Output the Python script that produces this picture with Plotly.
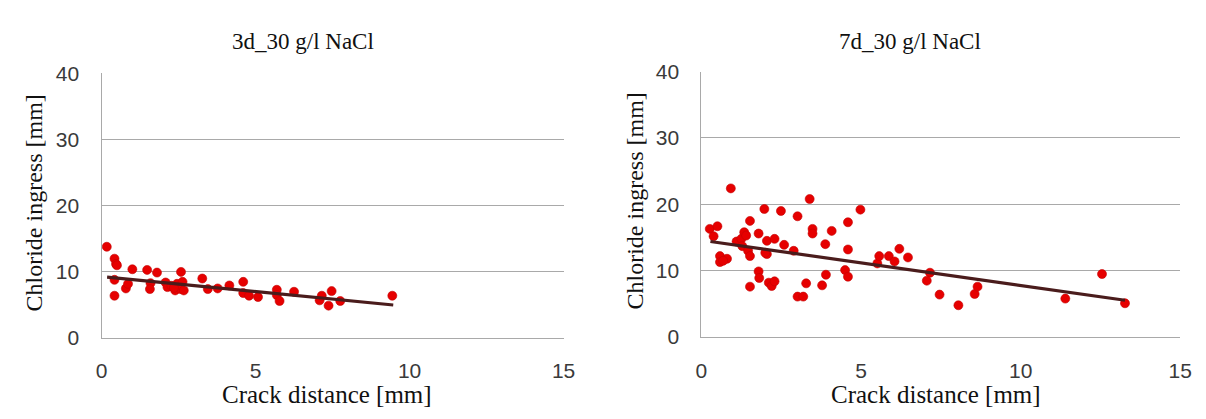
import plotly.graph_objects as go

# ---- data ----
x_3d = [0.17, 0.42, 0.47, 0.50, 0.42, 0.42, 0.79, 0.86, 1.00, 1.48, 1.59, 1.57, 1.80,
        2.08, 2.14, 2.27, 2.39, 2.45, 2.58, 2.63, 2.57, 2.67, 2.35, 3.27, 3.45, 3.77,
        4.15, 4.60, 4.60, 4.79, 5.08, 5.69, 5.69, 5.78, 6.25, 7.08, 7.15, 7.37, 7.47,
        7.75, 9.44]
y_3d = [13.8, 12.0, 11.2, 11.0, 8.8, 6.4, 7.5, 8.2, 10.4, 10.3, 8.3, 7.4, 9.9,
        8.4, 7.7, 7.9, 7.2, 8.2, 10.0, 8.5, 7.4, 7.2, 7.6, 9.0, 7.4, 7.5,
        7.95, 8.5, 6.8, 6.4, 6.2, 7.3, 6.5, 5.6, 7.0, 5.7, 6.4, 4.9, 7.1,
        5.6, 6.4]
trend_x_3d = [0.18, 9.47]
trend_y_3d = [9.2, 5.0]

x_7d = [0.26, 0.50, 0.38, 0.58, 0.58, 0.80, 0.68, 0.92, 1.10, 1.25, 1.34, 1.40, 1.28,
        1.46, 1.52, 1.52, 1.52, 1.79, 1.79, 1.81, 1.97, 2.05, 2.05, 2.00, 2.11, 2.20,
        2.29, 2.29, 2.49, 2.59, 2.89, 3.01, 3.01, 3.19, 3.28, 3.39, 3.48, 3.48, 3.78,
        3.88, 3.90, 4.08, 4.50, 4.59, 4.59, 4.59, 4.98, 5.51, 5.57, 5.87, 6.05, 6.20,
        6.47, 7.16, 7.06, 7.46, 8.05, 8.56, 8.65, 11.40, 12.55, 13.27]
y_7d = [16.3, 16.7, 15.2, 12.2, 11.3, 11.8, 11.5, 22.4, 14.4, 14.8, 15.8, 15.3, 13.7,
        13.0, 17.5, 12.2, 7.6, 15.6, 9.9, 8.9, 19.3, 14.5, 12.5, 12.7, 8.2, 7.7,
        8.4, 14.8, 19.0, 13.9, 13.0, 18.2, 6.1, 6.1, 8.1, 20.8, 16.3, 15.6, 7.8,
        14.0, 9.4, 16.0, 10.1, 17.3, 13.2, 9.1, 19.2, 11.1, 12.2, 12.2, 11.4, 13.3,
        12.0, 9.7, 8.5, 6.4, 4.8, 6.5, 7.6, 5.8, 9.5, 5.1]
trend_x_7d = [0.28, 13.27]
trend_y_7d = [14.4, 5.55]

titles = ["3d_30 g/l NaCl", "7d_30 g/l NaCl"]
x_title = "Crack distance [mm]"
y_title = "Chloride ingress [mm]"
x_ticks = [0, 5, 10, 15]
y_ticks = [0, 10, 20, 30, 40]

# ---- styling ----
W, H = 1206, 419
dot_color = "#e60000"
line_color = "#4a1c1c"
grid_color = "#a9a9a9"
serif = "Liberation Serif, Times New Roman, serif"
sans = "Liberation Sans, Arial, sans-serif"


def px_x(p):
    return p / W


def px_y(p):
    return 1 - p / H


fig = go.Figure()
panels = [(x_3d, y_3d, trend_x_3d, trend_y_3d, "x", "y"),
          (x_7d, y_7d, trend_x_7d, trend_y_7d, "x2", "y2")]
for xs, ys, tx, ty, xa, ya in panels:
    fig.add_trace(go.Scatter(x=xs, y=ys, mode="markers", xaxis=xa, yaxis=ya,
                             marker=dict(color=dot_color, size=9,
                                         line=dict(color="#c40000", width=0.6)),
                             showlegend=False, hoverinfo="x+y"))
    fig.add_trace(go.Scatter(x=tx, y=ty, mode="lines", xaxis=xa, yaxis=ya,
                             line=dict(color=line_color, width=3.2),
                             showlegend=False, hoverinfo="skip"))

# plot areas in page pixels: (left, right, y0 pixel, y40 pixel)
boxes = [(97, 566, 345, 65), (706, 1192, 344, 63)]

axis_common = dict(showline=True, linecolor=grid_color, linewidth=1.4,
                   zeroline=False, ticks="",
                   tickfont=dict(family=sans, size=21, color="#3a3a3a"))
for i, (l, r, b, t) in enumerate(boxes):
    sfx = "" if i == 0 else str(i + 1)
    fig.update_layout(**{
        "xaxis" + sfx: dict(domain=[px_x(l), px_x(r)], range=[0, 15], tickvals=x_ticks,
                            showgrid=False, anchor="y" + sfx,
                            ticklabelstandoff=14, **axis_common),
        "yaxis" + sfx: dict(domain=[px_y(b), px_y(t)], range=[0, 40], tickvals=y_ticks,
                            showgrid=True, gridcolor=grid_color, gridwidth=1.4,
                            anchor="x" + sfx, ticklabelstandoff=17, **axis_common),
    })

annotations = []
title_cx = [301, 918]
xtitle_cx = [326, 944]
ytitle_cx = [28, 639]
ytitle_cy = [202, 200]
for i in range(2):
    annotations.append(dict(text=titles[i], x=px_x(title_cx[i]), y=px_y(31),
                            xref="paper", yref="paper", showarrow=False,
                            xanchor="center", yanchor="middle",
                            font=dict(family=serif, size=23, color="#111111")))
    annotations.append(dict(text=x_title, x=px_x(xtitle_cx[i]), y=px_y(405),
                            xref="paper", yref="paper", showarrow=False,
                            xanchor="center", yanchor="middle",
                            font=dict(family=serif, size=25, color="#111111")))
    annotations.append(dict(text=y_title, x=px_x(ytitle_cx[i]), y=px_y(ytitle_cy[i]),
                            xref="paper", yref="paper", showarrow=False,
                            textangle=-90, xanchor="center", yanchor="middle",
                            font=dict(family=serif, size=24, color="#111111")))

fig.update_layout(width=W, height=H, margin=dict(l=0, r=0, t=0, b=0),
                  paper_bgcolor="white", plot_bgcolor="white",
                  annotations=annotations, showlegend=False)

# remove the page's default body margin so the figure sits at the window origin
fig.write_html("out.html", config={"displayModeBar": False},
               post_script="document.body.style.margin='0px';")
